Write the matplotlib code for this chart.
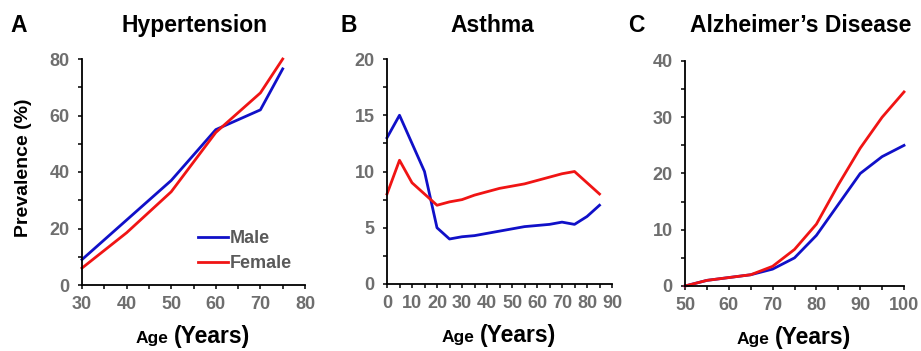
# Age-specific prevalence: hypertension, asthma, Alzheimer's disease

import matplotlib
matplotlib.use("Agg")
import matplotlib.pyplot as plt
from matplotlib.ticker import MultipleLocator

plt.rcParams["font.family"] = ["Liberation Sans", "DejaVu Sans"]
plt.rcParams["font.weight"] = "bold"

BLUE = "#1010c8"
RED = "#f01414"
GRAY = "#6e6e6e"

# ── Data ──────────────────────────────────────────────────────────────────────
hyp_age = [30, 40, 50, 60, 70, 75]
hyp_male = [9, 23, 37, 55, 62, 76.5]
hyp_female = [6, 18.5, 33, 54, 68, 80]

ast_age = [0, 5, 10, 15, 20, 25, 30, 35, 40, 45, 50, 55, 60, 65, 70, 75, 80, 85]
ast_male = [13, 15, 12.5, 10, 5, 4, 4.2, 4.3, 4.5, 4.7, 4.9, 5.1, 5.2, 5.3,
            5.5, 5.3, 6, 7]
ast_female = [8, 11, 9, 8, 7, 7.3, 7.5, 7.9, 8.2, 8.5, 8.7, 8.9, 9.2, 9.5,
              9.8, 10, 9, 8]

alz_age = [50, 55, 60, 65, 70, 75, 80, 85, 90, 95, 100]
alz_male = [0, 1, 1.5, 2, 3, 5, 9, 14.5, 20, 23, 25]
alz_female = [0, 1, 1.5, 2, 3.5, 6.5, 11, 18, 24.5, 30, 34.5]

W, H = 921, 351
fig = plt.figure(figsize=(W / 100, H / 100), dpi=100)


def box(l, r, t, b):
    return [l / W, 1 - b / H, (r - l) / W, (b - t) / H]


panels = [
    dict(rect=box(82, 305, 59, 285), x=hyp_age, m=hyp_male, f=hyp_female,
         xlim=(30, 80), ylim=(0, 80), xmaj=10, ymaj=20,
         letter="A", lx=10, title="Hypertension", tx=194),
    dict(rect=box(387, 612, 59, 284), x=ast_age, m=ast_male, f=ast_female,
         xlim=(0, 90), ylim=(0, 20), xmaj=10, ymaj=5,
         letter="B", lx=340, title="Asthma", tx=492),
    dict(rect=box(685, 904, 61, 286), x=alz_age, m=alz_male, f=alz_female,
         xlim=(50, 100), ylim=(0, 40), xmaj=10, ymaj=10,
         letter="C", lx=628, title="Alzheimer\u2019s Disease", tx=801),
]

axes = []
for p in panels:
    ax = fig.add_axes(p["rect"])
    ax.plot(p["x"], p["m"], color=BLUE, lw=2.0, label="Male", clip_on=False)
    ax.plot(p["x"], p["f"], color=RED, lw=2.0, label="Female", clip_on=False)
    ax.set_xlim(*p["xlim"])
    ax.set_ylim(*p["ylim"])
    ax.xaxis.set_major_locator(MultipleLocator(p["xmaj"]))
    ax.xaxis.set_minor_locator(MultipleLocator(p["xmaj"] / 2))
    ax.yaxis.set_major_locator(MultipleLocator(p["ymaj"]))
    ax.yaxis.set_minor_locator(MultipleLocator(p["ymaj"] / 2))
    for s in ["top", "right"]:
        ax.spines[s].set_visible(False)
    for s in ["left", "bottom"]:
        ax.spines[s].set_linewidth(1.3)
    ax.tick_params(which="both", direction="out", length=3, width=1.1,
                   color="black")
    ax.tick_params(axis="x", which="major", pad=5, labelsize=13,
                   labelcolor=GRAY)
    ax.tick_params(axis="y", which="major", pad=6, labelsize=13,
                   labelcolor=GRAY)
    for lab in ax.get_xticklabels() + ax.get_yticklabels():
        lab.set_fontweight("bold")

    # x label: small "Age", large "(Years)"
    ax.annotate("Age", xy=(0.5, 0), xycoords="axes fraction",
                xytext=(-18, -42), textcoords="offset points",
                ha="right", va="baseline", fontsize=12.5, fontweight="bold")
    ax.annotate("(Years)", xy=(0.5, 0), xycoords="axes fraction",
                xytext=(-14, -42), textcoords="offset points",
                ha="left", va="baseline", fontsize=16.5, fontweight="bold")

    fig.text(p["lx"] / W, 1 - 32 / H, p["letter"], ha="left",
             va="baseline", fontsize=16.5, fontweight="bold")
    fig.text(p["tx"] / W, 1 - 32 / H, p["title"], ha="center",
             va="baseline", fontsize=16.5, fontweight="bold")
    axes.append(ax)

axes[0].set_ylabel("Prevalence (%)", fontsize=14, fontweight="bold")
axes[0].yaxis.set_label_coords(-0.225, 0.52)

leg = axes[0].legend(loc="lower right", bbox_to_anchor=(1.0, 0.0),
                     frameon=False, fontsize=13, handlelength=1.7,
                     handletextpad=0.1, labelspacing=0.45,
                     borderaxespad=0.3)
for t in leg.get_texts():
    t.set_color("#5a5a5a")
    t.set_fontweight("bold")

plt.savefig("out.png", dpi=100)
plt.close()
